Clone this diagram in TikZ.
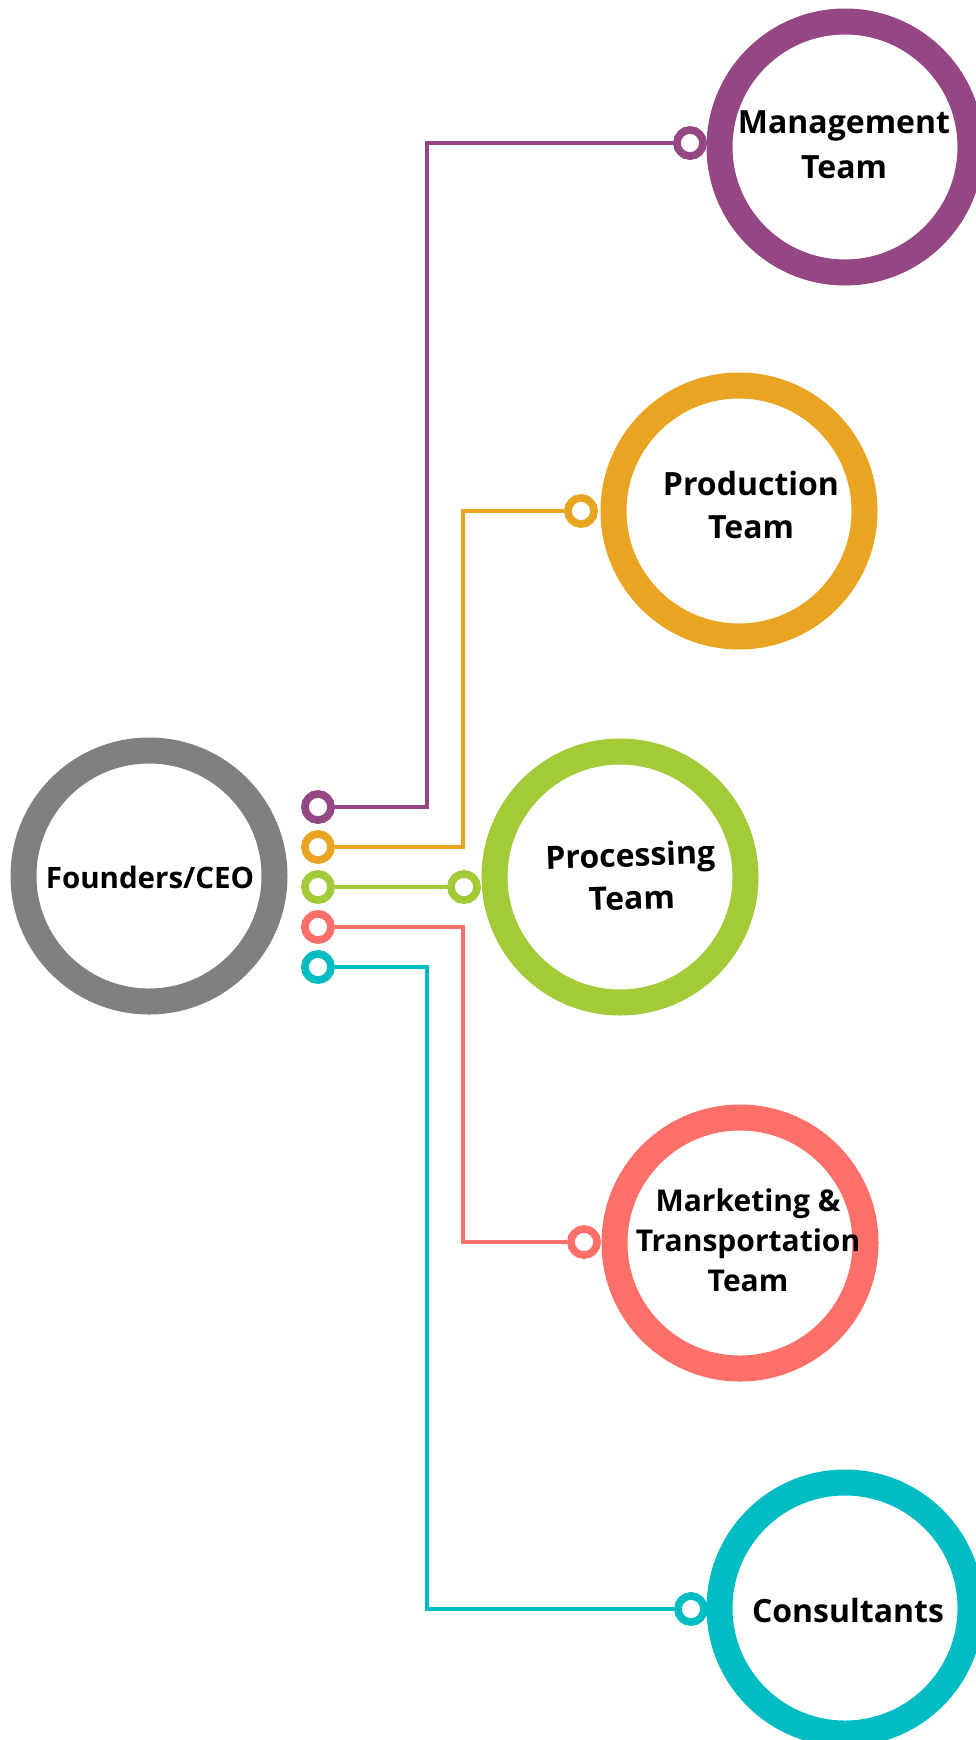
\documentclass[tikz,border=0pt]{standalone}
\usepackage{fontspec}
\setmainfont{Open Sans}
\definecolor{cgray}{HTML}{808080}
\definecolor{cpurple}{HTML}{944783}
\definecolor{corange}{HTML}{E9A521}
\definecolor{cgreen}{HTML}{A3CB38}
\definecolor{csalmon}{HTML}{FD6F69}
\definecolor{ccyan}{HTML}{00BDC4}
\begin{document}
\begin{tikzpicture}[x=1pt,y=-1pt,
  ring/.style={circle,draw=#1,line width=26pt,minimum size=251pt,inner sep=0pt},
  dot/.style={circle,draw=#1,line width=7.5pt,fill=white,minimum size=26pt,inner sep=0pt},
  wire/.style={draw=#1,line width=3.2pt},
  lbl/.style={font=\fontsize{32}{43}\selectfont\bfseries,align=center,text=black,inner sep=0pt}]
\useasboundingbox (0,0) rectangle (976,1740);
\fill[white] (0,0) rectangle (976,1740);

% big rings
\node[ring=cgray]   (ceo)  at (149,876) {};
\node[ring=cpurple] (mgmt) at (845,147) {};
\node[ring=corange] (prod) at (739,511) {};
\node[ring=cgreen]  (proc) at (620,877) {};
\node[ring=csalmon] (mkt)  at (740,1243) {};
\node[ring=ccyan]   (cons) at (845,1608) {};

% labels
\node[lbl,font=\fontsize{29.5}{43}\selectfont\bfseries] (ceoT)  at (150,877) {Founders/CEO};
\node[lbl,font=\fontsize{32}{45}\selectfont\bfseries] (mgmtT) at (844,145) {Management\\Team};
\node[lbl] (prodT) at (751,505) {Production\\Team};
\node[lbl,rotate=2] (procT) at (631,876) {Processing\\Team};
\node[lbl,font=\fontsize{30}{40}\selectfont\bfseries] (mktT)  at (748,1240) {Marketing \&\\Transportation\\Team};
\node[lbl] (consT) at (848,1610) {Consultants};

% vertical routing coordinates
\coordinate (vA) at (427,0);
\coordinate (vB) at (463,0);

% left dots
\node[dot=cpurple] (l1) at (318,807) {};
\node[dot=corange] (l2) at (318,847) {};
\node[dot=cgreen]  (l3) at (318,887) {};
\node[dot=csalmon] (l4) at (318,927) {};
\node[dot=ccyan]   (l5) at (318,967) {};

% right dots
\node[dot=cpurple] (r1) at (690,143) {};
\node[dot=corange] (r2) at (581,511) {};
\node[dot=cgreen]  (r3) at (464,887) {};
\node[dot=csalmon] (r4) at (584,1242) {};
\node[dot=ccyan]   (r5) at (691,1609) {};

% connectors
\draw[wire=cpurple] (l1.east) -- (l1.east -| vA) |- (r1.west);
\draw[wire=corange] (l2.east) -- (l2.east -| vB) |- (r2.west);
\draw[wire=cgreen]  (l3.east) -- (r3.west);
\draw[wire=csalmon] (l4.east) -- (l4.east -| vB) |- (r4.west);
\draw[wire=ccyan]   (l5.east) -- (l5.east -| vA) |- (r5.west);

% redraw dots on top
\node[dot=cpurple] at (l1) {};
\node[dot=corange] at (l2) {};
\node[dot=cgreen]  at (l3) {};
\node[dot=csalmon] at (l4) {};
\node[dot=ccyan]   at (l5) {};
\node[dot=cpurple] at (r1) {};
\node[dot=corange] at (r2) {};
\node[dot=cgreen]  at (r3) {};
\node[dot=csalmon] at (r4) {};
\node[dot=ccyan]   at (r5) {};
\end{tikzpicture}
\end{document}
